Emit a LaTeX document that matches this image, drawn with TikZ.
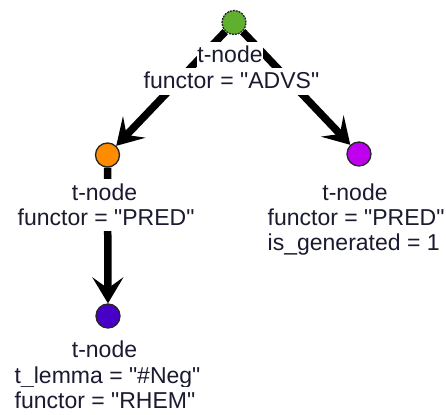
\documentclass[tikz,border=0pt]{standalone}
\usepackage{fontspec}
\setmainfont{Liberation Sans}
\usetikzlibrary{arrows.meta}
\definecolor{cgreen}{HTML}{60B030}
\definecolor{corange}{HTML}{FF8C00}
\definecolor{cmagenta}{HTML}{BE00EE}
\definecolor{cblue}{HTML}{4800C8}
\definecolor{ctext}{HTML}{1A1A30}
\newcommand{\qq}{\textquotedbl}
\begin{document}
\begin{tikzpicture}[x=1pt,y=-1pt,
  vert/.style={circle, draw=black!85, line width=1.3pt, minimum size=24pt, inner sep=0pt},
  edge/.style={line width=7.5pt, -{Stealth[length=26pt,width=31pt,inset=11pt]}},
  lbl/.style={fill=white, text=ctext, inner xsep=0.5pt, inner ysep=0pt,
    text height=21pt, text depth=6pt, font=\fontsize{23}{26}\selectfont}]
\useasboundingbox (0,0) rectangle (446,414);
% vertices
\node[vert, fill=cgreen, dash pattern=on 2pt off 1pt] (g) at (234,22.5) {};
\node[vert, fill=corange] (o) at (107.5,155) {};
\node[vert, fill=cmagenta] (m) at (359,154) {};
\node[vert, fill=cblue] (b) at (108,316) {};
% edges
\draw[edge] (g) -- (o);
\draw[edge] (g) -- (m);
\draw[edge] (o) -- (b);
% labels of green
\node[lbl, anchor=base] (g1) at (230,63) {t-node};
\node[lbl, anchor=base west] (g2) at (143,89) {functor = \qq ADVS\qq};
% labels of orange
\node[lbl, anchor=base] (o1) at (104.5,200) {t-node};
\node[lbl, anchor=base west] (o2) at (17,225) {functor = \qq PRED\qq};
% labels of magenta
\node[lbl, anchor=base] (m1) at (355,200) {t-node};
\node[lbl, anchor=base west] (m2) at (267,225) {functor = \qq PRED\qq};
\node[lbl, anchor=base west] (m3) at (267,250) {is\_generated = 1};
% labels of blue
\node[lbl, anchor=base] (b1) at (104.5,357) {t-node};
\node[lbl, anchor=base west] (b2) at (14,383) {t\_lemma = \qq\#Neg\qq};
\node[lbl, anchor=base west] (b3) at (14,408) {functor = \qq RHEM\qq};
\end{tikzpicture}
\end{document}
